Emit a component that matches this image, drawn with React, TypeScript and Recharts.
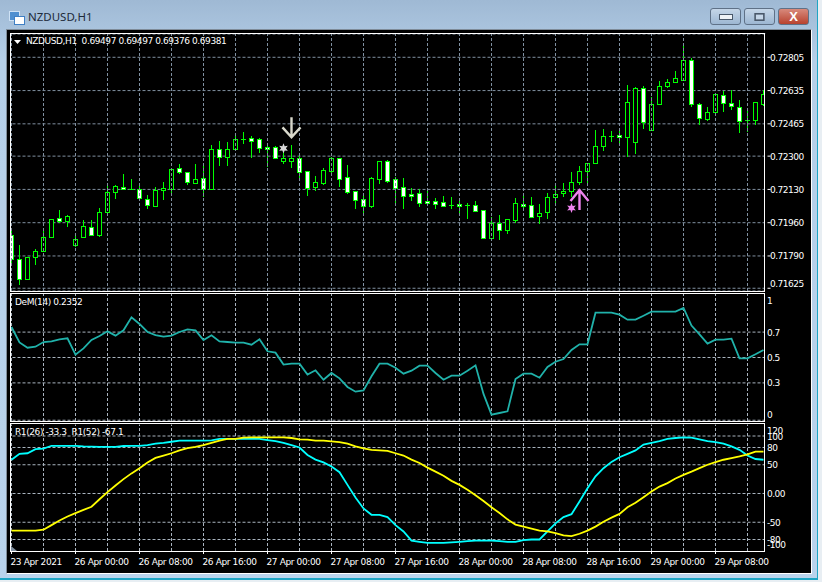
import {
  Bar,
  CartesianGrid,
  ComposedChart,
  Line,
  ReferenceDot,
  ReferenceLine,
  XAxis,
  YAxis,
} from "recharts";

const opens = [
  0.71896, 0.71773, 0.71674, 0.71783, 0.71814, 0.71885, 0.71982, 0.71967, 0.71848, 0.71885,
  0.7194, 0.71899, 0.72013, 0.72115, 0.72144, 0.72134, 0.72134, 0.7208, 0.72047, 0.72126,
  0.72131, 0.72238, 0.72221, 0.72165, 0.72187, 0.72134, 0.72335, 0.72298, 0.72335, 0.72386,
  0.72391, 0.72386, 0.72345, 0.72345, 0.72277, 0.72277, 0.72289, 0.72223, 0.72144, 0.72165,
  0.72226, 0.72289, 0.72192, 0.7212, 0.7208, 0.72047, 0.72185, 0.72274, 0.72182, 0.72141,
  0.72105, 0.7211, 0.72069, 0.72069, 0.72064, 0.72049, 0.72054, 0.72049, 0.72049, 0.72023,
  0.71884, 0.71957, 0.71925, 0.71976, 0.72054, 0.72049, 0.71996, 0.72013, 0.7209, 0.7211,
  0.7212, 0.72167, 0.72223, 0.72263, 0.7235, 0.72405, 0.72407, 0.72396, 0.72371, 0.72647,
  0.72432, 0.72565, 0.72657, 0.72677, 0.72691, 0.7279, 0.72565, 0.72492, 0.72524, 0.72611,
  0.7257, 0.7255, 0.72483, 0.72483, 0.72567,
];
const highs = [
  0.71926, 0.71846, 0.71787, 0.71824, 0.71923, 0.71977, 0.72025, 0.72, 0.71896, 0.71974,
  0.71974, 0.72034, 0.72161, 0.72151, 0.72209, 0.72182, 0.72161, 0.721, 0.72141, 0.72168,
  0.72233, 0.7226, 0.72221, 0.7226, 0.72253, 0.72357, 0.72376, 0.72371, 0.72408, 0.72424,
  0.72405, 0.72391, 0.72354, 0.7235, 0.72323, 0.72355, 0.72315, 0.72223, 0.72199, 0.72238,
  0.72294, 0.72292, 0.72255, 0.7212, 0.72102, 0.72192, 0.72275, 0.72279, 0.72192, 0.72189,
  0.72137, 0.72131, 0.72131, 0.72086, 0.72097, 0.72092, 0.72081, 0.72061, 0.72071, 0.72025,
  0.71989, 0.72, 0.71977, 0.72086, 0.72112, 0.72092, 0.72056, 0.72114, 0.72161, 0.72161,
  0.72218, 0.7225, 0.72263, 0.72434, 0.72437, 0.72429, 0.72429, 0.72664, 0.72655, 0.72659,
  0.72602, 0.72684, 0.72693, 0.72735, 0.72863, 0.72803, 0.7257, 0.72551, 0.72618, 0.72635,
  0.72638, 0.72587, 0.72536, 0.72575, 0.72638,
];
const lows = [
  0.71742, 0.71642, 0.71671, 0.71744, 0.71814, 0.71885, 0.71957, 0.7194, 0.71834, 0.71885,
  0.71896, 0.71885, 0.72008, 0.72083, 0.72131, 0.72131, 0.72083, 0.72032, 0.72039, 0.72078,
  0.72114, 0.72211, 0.72151, 0.72161, 0.72093, 0.72132, 0.72252, 0.72252, 0.72335, 0.72364,
  0.72292, 0.72318, 0.72246, 0.72292, 0.72262, 0.7224, 0.72173, 0.72097, 0.72122, 0.72153,
  0.72204, 0.72141, 0.72107, 0.7203, 0.71996, 0.72037, 0.72158, 0.72165, 0.72059, 0.7203,
  0.72071, 0.72042, 0.72051, 0.7203, 0.7204, 0.7203, 0.71994, 0.71979, 0.72015, 0.71877,
  0.71872, 0.71872, 0.71903, 0.71959, 0.72025, 0.71991, 0.71955, 0.71981, 0.72052, 0.72093,
  0.72093, 0.72155, 0.72151, 0.72263, 0.72328, 0.72374, 0.72359, 0.72298, 0.72311, 0.72441,
  0.72429, 0.7256, 0.72648, 0.72676, 0.72689, 0.72553, 0.72459, 0.72481, 0.72521, 0.72526,
  0.72536, 0.7242, 0.72425, 0.72461, 0.72556,
];
const closes = [
  0.71773, 0.71674, 0.71783, 0.71814, 0.71885, 0.71977, 0.71967, 0.71993, 0.71875, 0.71942,
  0.71896, 0.72013, 0.72115, 0.72146, 0.72134, 0.72134, 0.72085, 0.72049, 0.72126, 0.72136,
  0.72233, 0.72218, 0.72167, 0.72182, 0.72134, 0.72335, 0.72298, 0.72335, 0.72386, 0.72386,
  0.72379, 0.72344, 0.72338, 0.72292, 0.72289, 0.72289, 0.72221, 0.72139, 0.72167, 0.72228,
  0.72289, 0.72185, 0.72119, 0.72078, 0.72047, 0.72187, 0.72274, 0.72175, 0.72139, 0.72098,
  0.72098, 0.72063, 0.72063, 0.72057, 0.72047, 0.72049, 0.72047, 0.72049, 0.72022, 0.71884,
  0.71957, 0.71925, 0.71977, 0.72059, 0.72047, 0.71991, 0.72008, 0.7209, 0.72109, 0.7212,
  0.72167, 0.72223, 0.72263, 0.7235, 0.72401, 0.72405, 0.72396, 0.72575, 0.72647, 0.72473,
  0.72565, 0.72657, 0.72677, 0.72698, 0.7279, 0.72565, 0.72493, 0.72524, 0.72616, 0.7257,
  0.72555, 0.72478, 0.72483, 0.72575, 0.72616,
];
const demValues = [
  0.74, 0.619, 0.577, 0.585, 0.622, 0.627, 0.643, 0.651, 0.522, 0.572,
  0.638, 0.669, 0.706, 0.672, 0.714, 0.816, 0.764, 0.701, 0.677, 0.664,
  0.672, 0.701, 0.722, 0.714, 0.638, 0.675, 0.627, 0.622, 0.617, 0.617,
  0.601, 0.643, 0.549, 0.538, 0.444, 0.451, 0.451, 0.365, 0.399, 0.325,
  0.378, 0.336, 0.268, 0.231, 0.241, 0.352, 0.451, 0.451, 0.42, 0.373,
  0.396, 0.436, 0.436, 0.378, 0.325, 0.357, 0.357, 0.396, 0.438, 0.213,
  0.05, 0.063, 0.076, 0.331, 0.373, 0.373, 0.341, 0.425, 0.467, 0.488,
  0.559, 0.604, 0.604, 0.853, 0.853, 0.853, 0.837, 0.798, 0.798, 0.829,
  0.861, 0.861, 0.861, 0.861, 0.89, 0.751, 0.682, 0.609, 0.64, 0.64,
  0.648, 0.493, 0.493, 0.525, 0.559,
];
const r26Values = [
  58.7, 69, 70, 77, 78, 83, 83, 83, 83, 82,
  81.4, 81, 81, 81, 82.6, 83, 83, 84, 86.6, 88,
  90, 92, 92, 92, 92, 92.4, 95, 95, 95, 95,
  95, 95, 93, 91, 88, 84, 80, 67, 59, 54,
  47, 37, 15, -7, -26, -37, -37, -41, -55, -66,
  -82, -84, -86, -86, -86, -85, -84, -83, -82, -82,
  -82, -83, -84, -84, -81, -80, -80, -66, -52, -41,
  -36, -14, 9, 30, 44, 55, 63, 69, 75, 85,
  88, 91, 95, 96.5, 97.7, 97, 94, 91, 89.5, 86.6,
  82, 76, 66, 60, 58.7,
];
const r52Values = [
  -64.5, -64.5, -64.5, -64.5, -63, -55, -47, -40, -34, -28.5,
  -23, -10, 2.3, 14, 25, 35, 44, 54, 62, 66,
  70, 75, 79, 81, 84, 88, 92, 95, 95, 97,
  97.7, 97.7, 97.7, 97.7, 97.7, 96.5, 94, 93.6, 92, 92,
  90.7, 89.5, 86.6, 82, 78.5, 76, 75, 74, 70, 66,
  59, 53, 45, 38, 31, 22, 15, 6.4, -3, -13,
  -24, -34, -45, -54, -57.6, -61, -64.5, -66, -69, -73,
  -74, -70, -64.5, -57.6, -49, -42, -35.5, -24, -16, -6.4,
  3.5, 12, 18, 26, 32.5, 38, 44, 50, 54.6, 58.7,
  61.6, 64.5, 68, 72.7, 73,
];

const timeLabels = [
  "23 Apr 2021", "26 Apr 00:00", "26 Apr 08:00", "26 Apr 16:00",
  "27 Apr 00:00", "27 Apr 08:00", "27 Apr 16:00", "28 Apr 00:00",
  "28 Apr 08:00", "28 Apr 16:00", "29 Apr 00:00", "29 Apr 08:00",
];
const priceTicks = [0.72805, 0.72635, 0.72465, 0.723, 0.7213, 0.7196, 0.7179, 0.71625];
const demTicks = [1, 0.7, 0.5, 0.3, 0];
const rangeTicks = [120, 100, 80, 50, 0, -50, -80, -100];

const rows = opens.map((open, i) => ({
  bar: i,
  open,
  high: highs[i],
  low: lows[i],
  close: closes[i],
  dem: demValues[i],
  r26: r26Values[i],
  r52: r52Values[i],
}));
const gridBars = rows.filter((r) => r.bar % 4 === 0).map((r) => r.bar);
const labelBars = rows.filter((r) => r.bar % 8 === 0).map((r) => r.bar);

const W = 812;
const PLOT_LEFT = 7.5;
const PLOT_RIGHT = W - 767.5;
const FONT = "'DejaVu Sans', sans-serif";
const GRID = "#8090a0";
const GRID_LIGHT = "#a9b4bf";
const DASH = "3 2";

function Candle(props: any) {
  const { x, y, width, height, payload } = props;
  const cx = Math.floor(x + width / 2) + 0.5;
  const perPrice = height / (payload.high - payload.low);
  const yOf = (p: number) => y + (payload.high - p) * perPrice;
  const top = Math.round(yOf(Math.max(payload.open, payload.close))) + 0.5;
  const bottom = Math.round(yOf(Math.min(payload.open, payload.close))) + 0.5;
  const fill = payload.close < payload.open ? "#ffffff" : "#000000";
  return (
    <g shapeRendering="crispEdges">
      <line x1={cx} x2={cx} y1={y} y2={y + height} stroke="#00ff00" />
      {bottom - top < 1 ? (
        <line x1={cx - 2.5} x2={cx + 2.5} y1={top} y2={top} stroke="#00ff00" />
      ) : (
        <rect x={cx - 2} y={top} width={4} height={bottom - top} fill={fill} stroke="#00ff00" />
      )}
    </g>
  );
}

function AxisLabel(props: any) {
  const { y, payload, left, top, bottom, format } = props;
  const ty = top != null ? Math.min(Math.max(y, top + 6), bottom - 7) : y;
  return (
    <text x={left} y={ty} dy={3.5} fill="#ffffff" fontSize={9} letterSpacing={-0.5} fontFamily={FONT}>
      {format ? format(payload.value) : payload.value}
    </text>
  );
}

function TimeLabel(props: any) {
  const { x, payload } = props;
  return (
    <text x={x - 1} y={564.5} fill="#ffffff" fontSize={9} letterSpacing={-0.38} fontFamily={FONT}>
      {timeLabels[labelBars.indexOf(payload.value)]}
    </text>
  );
}

function Star(props: any) {
  const { cx, cy, color } = props;
  const pts: string[] = [];
  for (let k = 0; k < 12; k++) {
    const r = k % 2 === 0 ? 5 : 2.4;
    const a = (k * Math.PI) / 6;
    pts.push(`${cx + r * Math.sin(a)},${cy - r * Math.cos(a)}`);
  }
  return <polygon points={pts.join(" ")} fill={color} />;
}

function ArrowDown(props: any) {
  const { cx, cy } = props;
  return (
    <path
      d={`M${cx} ${cy - 21}V${cy - 1}M${cx - 9} ${cy - 11}L${cx} ${cy - 1}L${cx + 9} ${cy - 11}`}
      stroke="#d9d9cc"
      strokeWidth={2.4}
      fill="none"
    />
  );
}

function ArrowUp(props: any) {
  const { cx, cy } = props;
  return (
    <path
      d={`M${cx} ${cy + 21}V${cy + 1}M${cx - 9} ${cy + 12}L${cx} ${cy + 1}L${cx + 9} ${cy + 12}`}
      stroke="#ee82ee"
      strokeWidth={2.4}
      fill="none"
    />
  );
}

function GridColumns(stroke: string) {
  return gridBars.map((b) => (
    <ReferenceLine key={b} x={b} stroke={stroke} strokeDasharray={DASH} />
  ));
}

function box(left: number, top: number, width: number, height: number, style: any = {}) {
  return { position: "absolute", left, top, width, height, ...style } as any;
}

function Caption({ left, top, children }: any) {
  return (
    <div
      style={box(left, top, 400, 14, {
        color: "#ffffff",
        font: `9px ${FONT}`,
        letterSpacing: -0.41,
        lineHeight: "14px",
        whiteSpace: "pre",
      })}
    >
      {children}
    </div>
  );
}

function Panel({ top, bottom }: { top: number; bottom: number }) {
  return (
    <div
      style={box(10, top, 755, bottom - top + 1, {
        boxSizing: "border-box",
        border: "1px solid #ffffff",
      })}
    />
  );
}

function WinButton({ left, color, children }: any) {
  return (
    <div
      style={box(left, 8, 31, 17, {
        boxSizing: "border-box",
        borderRadius: 3,
        border: "1px solid #5f7187",
        background: color,
        display: "flex",
        alignItems: "center",
        justifyContent: "center",
      })}
    >
      {children}
    </div>
  );
}

export default function App() {
  return (
    <div
      style={box(0, 0, 822, 582, {
        position: "fixed",
        overflow: "hidden",
        background: "linear-gradient(#9fb9d4 0, #b5cfe8 60px, #b9d3ec 100%)",
      })}
    >
      <div style={box(0, 580, 822, 2, { background: "#e8eef3" })} />
      <div style={box(0, 578, 818, 2, { background: "#1ea5c4" })} />
      <div style={box(817, 0, 1, 580, { background: "#1ea5c4" })} />
      <div style={box(818, 0, 4, 582, { background: "#e8eef3" })} />

      <div style={box(9, 11, 9, 8, { background: "#4f8fd0", border: "1px solid #cfe2f5" })} />
      <div style={box(14, 16, 9, 7, { background: "#ffffff", border: "1px solid #3f7fc4" })} />
      <div style={box(28, 8, 120, 18, { color: "#1d2a3a", font: "11.5px 'Noto Sans', sans-serif", lineHeight: "18px" })}>
        NZDUSD,H1
      </div>
      <WinButton left={710} color="linear-gradient(#c5d6e8, #9db7d2)">
        <div style={{ width: 12, height: 4, background: "#eef2f6", border: "1px solid #49586a" }} />
      </WinButton>
      <WinButton left={744} color="linear-gradient(#c5d6e8, #9db7d2)">
        <div style={{ width: 9, height: 6, background: "#c5d6e8", border: "2px solid #49586a", boxSizing: "content-box", transform: "scale(0.8)" }} />
      </WinButton>
      <WinButton left={778} color="linear-gradient(#d88a7c, #b8422f)">
        <span style={{ color: "#ffffff", font: "bold 13px 'Liberation Sans'", lineHeight: "13px" }}>X</span>
      </WinButton>

      <div style={box(6, 29, 804, 543, { background: "#000000", border: "1px solid #ffffff", borderTopColor: "#7f8c99", borderLeftColor: "#7f8c99" })} />

      <div style={box(0, 0, W, 292)}>
        <ComposedChart
          width={W}
          height={292}
          data={rows}
          barCategoryGap={0}
          margin={{ top: 34, bottom: 1, left: PLOT_LEFT, right: 0 }}
        >
          <CartesianGrid vertical={false} stroke={GRID} strokeDasharray={DASH} />
          {GridColumns(GRID)}
          <XAxis dataKey="bar" type="category" scale="band" hide />
          <YAxis
            orientation="right"
            width={PLOT_RIGHT}
            domain={[0.71611, 0.72924]}
            ticks={priceTicks}
            axisLine={false}
            tickSize={3}
            tickLine={{ stroke: "#ffffff" }}
            tick={<AxisLabel left={770} format={(v: number) => v.toFixed(5)} />}
            allowDataOverflow
          />
          <Bar
            dataKey={(d: any) => [d.low, d.high]}
            shape={<Candle />}
            isAnimationActive={false}
          />
          <ReferenceDot x={34} y={0.7234} shape={<Star color="#d9d9d9" />} />
          <ReferenceDot x={35} y={0.72391} shape={<ArrowDown />} />
          <ReferenceDot x={70} y={0.72035} shape={<Star color="#ee82ee" />} />
          <ReferenceDot x={71} y={0.72132} shape={<ArrowUp />} />
        </ComposedChart>
      </div>

      <div style={box(0, 0, W, 422)}>
        <ComposedChart
          width={W}
          height={422}
          data={rows}
          margin={{ top: 294, bottom: 1, left: PLOT_LEFT, right: 0 }}
        >
          <CartesianGrid vertical={false} stroke={GRID_LIGHT} strokeDasharray={DASH} horizontalValues={[0.7, 0.5, 0.3, 0.006]} />
          {GridColumns(GRID_LIGHT)}
          <XAxis dataKey="bar" type="category" scale="band" hide />
          <YAxis
            orientation="right"
            width={PLOT_RIGHT}
            domain={[0, 1]}
            ticks={demTicks}
            axisLine={false}
            tickLine={false}
            interval={0}
            tick={<AxisLabel left={767} top={294} bottom={421} />}
          />
          <Line dataKey="dem" stroke="#20b2aa" strokeWidth={1.8} dot={false} isAnimationActive={false} />
        </ComposedChart>
      </div>

      <div style={box(0, 0, W, 576)}>
        <ComposedChart
          width={W}
          height={576}
          data={rows}
          margin={{ top: 424.5, bottom: 0, left: PLOT_LEFT, right: 0 }}
        >
          <CartesianGrid vertical={false} stroke={GRID_LIGHT} strokeDasharray={DASH} horizontalValues={[100, 80, 50, 0, -50, -80]} />
          {GridColumns(GRID_LIGHT)}
          <XAxis
            dataKey="bar"
            type="category"
            scale="band"
            ticks={labelBars}
            interval={0}
            height={25}
            axisLine={false}
            tickSize={3}
            tickLine={{ stroke: "#ffffff" }}
            tick={<TimeLabel />}
          />
          <YAxis
            orientation="right"
            width={PLOT_RIGHT}
            domain={[-100, 120]}
            ticks={rangeTicks}
            axisLine={false}
            tickLine={false}
            interval={0}
            tick={<AxisLabel left={767} top={424.5} bottom={551} format={(v: number) => (v === 0 ? "0.00" : v)} />}
          />
          <Line dataKey="r26" stroke="#00ffff" strokeWidth={1.8} dot={false} isAnimationActive={false} />
          <Line dataKey="r52" stroke="#ffff00" strokeWidth={1.8} dot={false} isAnimationActive={false} />
        </ComposedChart>
      </div>

      <div style={box(7, 30, 3, 523, { background: "#000000" })} />
      <div style={box(765, 34, 2, 517, { background: "#000000" })} />
      <Panel top={33} bottom={291} />
      <Panel top={293} bottom={421} />
      <Panel top={423} bottom={551} />
      <div style={box(11, 546, 6, 5, { background: GRID, clipPath: "polygon(0 0, 100% 100%, 0 100%)" })} />

      <div style={box(14, 40, 7, 4, { background: "#ffffff", clipPath: "polygon(0 0, 100% 0, 50% 100%)" })} />
      <Caption left={26} top={34}>NZDUSD,H1  0.69497 0.69497 0.69376 0.69381</Caption>
      <Caption left={15} top={295}>DeM(14) 0.2352</Caption>
      <Caption left={15} top={425}>R1(26) -33.3  R1(52) -67.1</Caption>
    </div>
  );
}
